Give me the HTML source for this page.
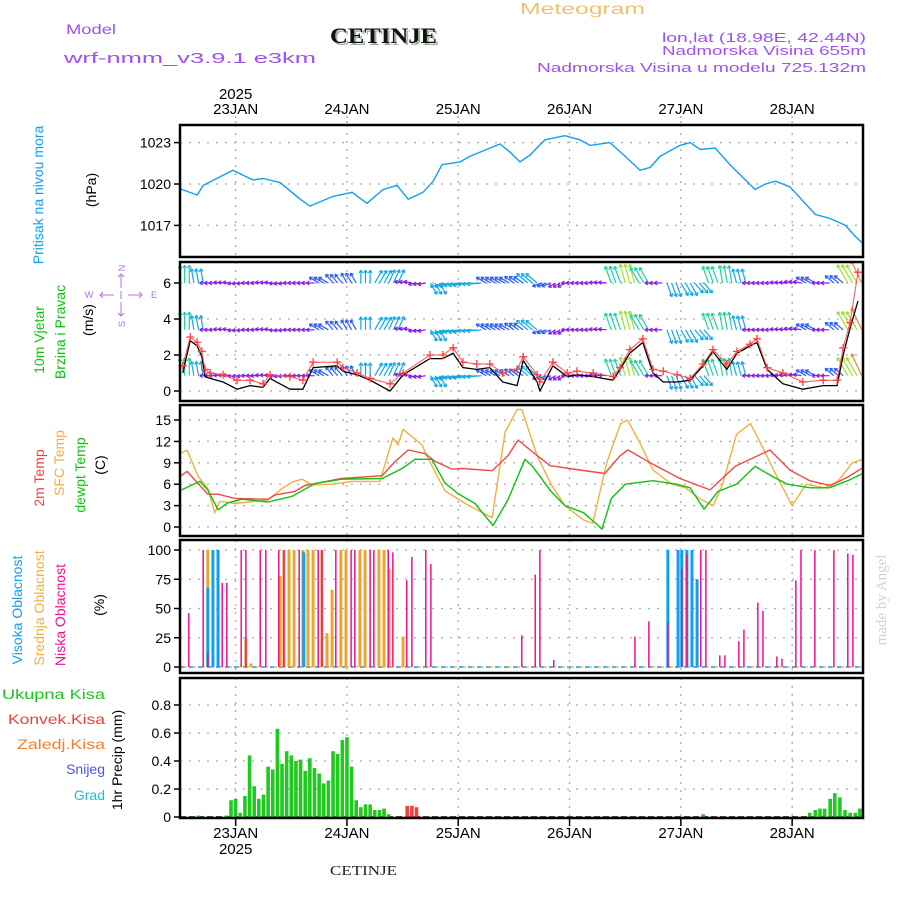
<!DOCTYPE html>
<html><head><meta charset="utf-8"><style>
html,body{margin:0;padding:0;background:#fff;}
svg{display:block;font-family:"Liberation Sans",sans-serif;}
</style></head><body>
<svg id="chart" width="900" height="900" viewBox="0 0 900 900" xmlns="http://www.w3.org/2000/svg">
<rect x="0" y="0" width="900" height="900" fill="#fff"/>
<g>
<text x="66" y="34" font-size="14" fill="#a050f0" textLength="50" lengthAdjust="spacingAndGlyphs">Model</text>
<text x="64" y="63" font-size="15" fill="#a050f0" textLength="252" lengthAdjust="spacingAndGlyphs">wrf-nmm_v3.9.1 e3km</text>
<text x="332" y="45" font-size="22" font-weight="bold" font-family="Liberation Serif,serif" fill="#a0b0a0" textLength="107" lengthAdjust="spacingAndGlyphs">CETINJE</text>
<text x="330" y="43" font-size="22" font-weight="bold" font-family="Liberation Serif,serif" fill="#111" textLength="107" lengthAdjust="spacingAndGlyphs">CETINJE</text>
<text x="520" y="14" font-size="16" fill="#f0c070" textLength="125" lengthAdjust="spacingAndGlyphs">Meteogram</text>
<text x="662" y="42" font-size="13" fill="#a050f0" textLength="204" lengthAdjust="spacingAndGlyphs">lon,lat (18.98E, 42.44N)</text>
<text x="662" y="55" font-size="13" fill="#a050f0" textLength="204" lengthAdjust="spacingAndGlyphs">Nadmorska Visina 655m</text>
<text x="537" y="72" font-size="13" fill="#a050f0" textLength="329" lengthAdjust="spacingAndGlyphs">Nadmorska Visina u modelu 725.132m</text>
</g>
<g id="grid"></g>
<g id="series"></g>
<g id="frames"></g>
<g id="labels"></g>
<g font-size="14">
<text transform="translate(43,195) rotate(-90)" text-anchor="middle" fill="#10a0f0" font-size="14">Pritisak na nivou mora</text>
<text transform="translate(96,190) rotate(-90)" text-anchor="middle" fill="#000">(hPa)</text>
<text transform="translate(44,340) rotate(-90)" text-anchor="middle" fill="#10c010">10m Vjetar</text>
<text transform="translate(65,332) rotate(-90)" text-anchor="middle" fill="#10c010">Brzina i Pravac</text>
<text transform="translate(93,320) rotate(-90)" text-anchor="middle" fill="#000">(m/s)</text>
<g fill="#b070f0" font-size="9" text-anchor="middle">
<text transform="translate(125,268) rotate(-90)">N</text>
<text transform="translate(125,324) rotate(-90)">S</text>
<text x="89" y="298">W</text><text x="154" y="298">E</text>
<g stroke="#b070f0" stroke-width="1" fill="none">
<path d="M100,295H114M128,295H142M103,292L100,295L103,298M139,292L142,295L139,298"/>
<path d="M121,274V288M121,302V316M118,277L121,274L124,277M118,313L121,316L124,313"/>
<path d="M121,291V299"/>
</g>
</g>
<text transform="translate(44,478) rotate(-90)" text-anchor="middle" fill="#f04040">2m Temp</text>
<text transform="translate(64,463) rotate(-90)" text-anchor="middle" fill="#f0b040">SFC Temp</text>
<text transform="translate(85,475) rotate(-90)" text-anchor="middle" fill="#10c010">dewpt Temp</text>
<text transform="translate(105,465) rotate(-90)" text-anchor="middle" fill="#000">(C)</text>
<text transform="translate(22,610) rotate(-90)" text-anchor="middle" fill="#10a0f0">Visoka Oblacnost</text>
<text transform="translate(44,608) rotate(-90)" text-anchor="middle" fill="#f0b040">Srednja Oblacnost</text>
<text transform="translate(65,615) rotate(-90)" text-anchor="middle" fill="#f01090">Niska Oblacnost</text>
<text transform="translate(104,605) rotate(-90)" text-anchor="middle" fill="#000">(%)</text>
<text transform="translate(122,760) rotate(-90)" text-anchor="middle" fill="#000">1hr Precip (mm)</text>
<g text-anchor="end" font-size="14">
<text x="105" y="699" fill="#20c020" textLength="103" lengthAdjust="spacingAndGlyphs">Ukupna Kisa</text>
<text x="105" y="724" fill="#f04040" textLength="97" lengthAdjust="spacingAndGlyphs">Konvek.Kisa</text>
<text x="105" y="749" fill="#f08030" textLength="88" lengthAdjust="spacingAndGlyphs">Zaledj.Kisa</text>
<text x="105" y="774" fill="#5050f0">Snijeg</text>
<text x="105" y="800" fill="#20c0d0">Grad</text>
</g>
<text x="330" y="875" font-size="14" font-family="Liberation Serif,serif" fill="#222" textLength="67" lengthAdjust="spacingAndGlyphs">CETINJE</text>
<text transform="translate(886,600) rotate(-90)" text-anchor="middle" font-family="Liberation Serif,serif" font-size="15" fill="#c8d8c8">made by Angel</text>
</g>
</svg>
<script>
// ---- data ----
const dayLabels = ["23JAN","24JAN","25JAN","26JAN","27JAN","28JAN"];
const dayHours = [12,36,60,84,108,132];
const presTicks = [1017,1020,1023];
const windTicks = [0,2,4,6];
const tempTicks = [0,3,6,9,12,15];
const cloudTicks = [0,25,50,75,100];
const precTicks = [0,0.2,0.4,0.6,0.8];

const presH = [0,0.4,3.7,5,11.4,15.7,17.9,21.6,25.9,28,33,37.1,40.3,43.8,46.8,49.2,52.4,54.6,56.5,60.4,62.5,66.8,69,71.2,73.3,75.5,78.7,83,86.2,88.4,92.7,96,99.2,101.4,103.5,107.8,110,112.2,115.4,118.6,121.9,124,126.2,128.4,131.5,133.7,137,140.2,143.5,145.6,147.2];
const presV = [1019.7,1019.6,1019.2,1019.9,1021.0,1020.3,1020.4,1020.1,1018.9,1018.4,1019.1,1019.4,1018.6,1019.6,1019.9,1018.9,1019.4,1020.2,1021.4,1021.6,1022.0,1022.6,1022.9,1022.3,1021.6,1022.1,1023.2,1023.5,1023.2,1022.8,1023.0,1022.0,1021.0,1021.2,1022.0,1022.8,1023.0,1022.5,1022.6,1021.4,1020.3,1019.6,1020.0,1020.2,1019.8,1019.0,1017.8,1017.5,1017.0,1016.2,1015.7];

const t2H = [0,1.5,6,8.2,11.9,19,20.5,24.8,26.9,29.1,34.9,43.6,46.4,49.2,52.8,55,58.7,60.8,67.3,70.7,72.9,75.5,79.8,86.2,91.6,94.9,96.6,101.4,107.8,114.3,119.7,127.2,131.5,135.8,140.2,144,147.2];
const t2V = [7.1,7.8,4.6,4.6,4.0,3.9,4.5,5.0,5.8,6.1,6.8,7.2,9.2,10.8,10.3,9.2,8.1,8.2,7.9,10.0,12.2,10.8,8.6,8.0,7.5,10.0,10.8,9.0,6.8,5.2,8.5,10.8,8.0,6.5,5.8,7.0,8.3];
const sfcH = [0,1.5,3.9,6,7.5,8.6,11.9,19,22,24.2,26.3,28.5,32.8,37.1,43.1,45.9,47,48.1,52.2,53.5,57.1,61.5,67.3,70.1,72.7,73.7,77,80,83,87,89,92,95,96.5,99,102,106,109,112,115,117,120,123,125,128,132,135,139,142,145,147.2];
const sfcV = [10.3,10.8,7.1,5.4,2.0,3.6,3.3,3.8,5.4,6.3,6.7,5.9,6.0,6.4,6.4,12.5,11.5,13.7,11.5,9.6,5.1,3.3,1.3,13.3,16.5,16.5,10.0,6.0,3.0,1.0,0.5,9.0,14.5,15.0,12.0,8.0,6.0,5.5,4.0,3.0,6.0,13.0,14.5,12.0,8.0,3.0,6.0,5.5,6.5,9.0,9.5];
const dewH = [0,4.3,6,8.2,10.3,13.4,19,24.2,29.1,34.9,43.6,47.9,50.7,54.3,57.1,59.9,63.6,67.5,70.7,74.4,76,80,83,87,90,91,93,96,102,107,110,113,116,120,124,128,131,136,140,144,147.2];
const dewV = [5.1,6.4,5.2,2.4,3.4,3.9,3.5,4.3,6.1,6.7,6.8,8.2,9.5,9.5,6.2,4.7,3.3,0.2,3.8,9.5,8.5,5.0,3.0,2.0,0.3,-0.3,4.0,6.0,6.5,6.0,5.5,2.5,5.0,6.0,8.5,7.0,6.0,5.5,5.5,6.5,7.5];

const windH = [0.6,2.2,3.7,4.7,5.4,6.5,9.3,12.3,15.1,17.9,19.4,23.7,26.5,28.7,33.9,35.1,38.2,41,45.3,48.1,53.9,56.7,58.9,61,64,66.8,69.6,72.7,74,77,77.6,80.4,83.5,85.6,89.1,93.4,94.9,97,99.8,102,104.2,107.2,110,112.8,114.9,117.9,120.1,122.9,124.4,126.6,130,134.3,138.7,141.7,143,144.5,146.2];
const gustV = [1.4,3.0,2.7,2.2,1.2,1.0,0.9,0.6,0.6,0.4,0.9,0.8,0.6,1.6,1.6,1.3,1.0,0.7,0.4,1.0,2.0,2.0,2.4,1.6,1.5,1.5,1.0,1.2,1.9,0.9,0.5,1.6,1.0,1.1,1.0,0.8,1.3,2.3,2.9,1.2,1.1,0.9,0.7,1.5,2.3,1.5,2.2,2.6,2.9,1.3,1.0,0.5,0.6,0.6,2.4,3.8,6.6];
const speedV = [1.0,2.8,2.5,1.9,0.8,0.7,0.5,0.1,0.3,0.2,0.7,0.1,0.1,1.3,1.4,1.1,0.9,0.6,0.0,0.9,1.8,1.8,2.1,1.3,1.2,1.3,0.5,0.3,1.7,0.5,0.0,1.4,0.8,0.9,0.8,0.6,1.2,2.1,2.7,1.0,0.5,0.5,0.6,1.4,2.2,1.2,2.1,2.5,2.7,1.2,0.4,0.1,0.3,0.3,2.0,3.5,5.0];

const arrowH = [0,3,6,9,12,15,18,21,24,27,30,33,36,39,42,45,48,51,54,57,60,63,66,69,72,75,78,81,84,87,90,93,96,99,102,105,108,111,114,117,120,123,126,129,132,135,138,141,144,147];
const arrowDir = [90,100,180,175,185,180,175,185,180,180,150,130,120,90,60,65,170,190,300,195,190,185,150,150,145,140,200,210,180,180,175,110,105,120,180,290,300,310,110,100,105,180,180,175,170,150,180,140,120,115];
const arrowSpd = [4,3,1,1,1,1,1,1,1,1,2,2,2,2.5,3,3,1,1,2.5,3,3,3,2,2,2,3,1.5,1,1,1,1,4,4.5,4,1,3,3,2.5,4,4,3,1,1,1,1,2,1,2,5,6];
const arrowRows = [6,3.4,0.85];

const lowH = [1.9,5,6,9.1,10.1,13.2,14.2,17.3,18.5,21.3,22.4,25.7,29.8,30.6,33.6,36.9,37.7,41,41.8,44.9,45.9,48.9,50,53,54.1,73.7,76.6,77.6,80.6,98.1,101.1,105.2,108.2,109.3,112.3,113.4,116.4,117.5,120.5,121.6,124.6,125.7,128.7,129.8,132.8,133.9,136.9,141,144,145.1];
const lowV = [46,100,12,72,72,100,100,100,100,100,100,100,100,100,100,100,100,100,100,100,98,74,94,100,88,27,79,100,6,26,39,38,84,96,100,100,10,10,22,32,55,48,9,7,74,100,100,100,97,96];
const midH = [6,8.2,14.2,15.3,21.6,22.4,23.5,24.6,26.5,27.6,28.7,30.6,31.7,32.8,34.7,35.8,38.8,39.9,42.9,44,45.1,48.1];
const midV = [100,100,25,3,78,100,100,100,100,100,100,100,29,66,100,100,100,100,100,100,84,26];
const highH = [6,7.1,8.2,26.7,105.2,107.4,108.2,109.3,110.4,111.5];
const highV = [68,100,100,98,100,100,100,100,100,75];

const precH = [4,10,11,12,13,14,15,16,17,18,19,20,21,22,23,24,25,26,27,28,29,30,31,32,33,34,35,36,37,38,39,40,41,42,43,44,45,112.8,135.8,137,138,139,140.2,141.2,142.3,143.4,144.5,145.6,146.6];
const precV = [0.01,0.01,0.12,0.13,0.03,0.15,0.44,0.22,0.13,0.16,0.36,0.34,0.63,0.38,0.47,0.44,0.40,0.41,0.33,0.42,0.35,0.31,0.24,0.26,0.47,0.45,0.55,0.57,0.36,0.12,0.07,0.09,0.09,0.05,0.05,0.06,0.02,0.02,0.03,0.05,0.06,0.06,0.13,0.17,0.14,0.05,0.03,0.03,0.06];
const convH = [49,50,51];
const convV = [0.08,0.08,0.07];

// ---- axes ----
const X0=180, X1=863, HSTEP=4.6375;
const xS = h => X0 + h*HSTEP;
const panels = {
  pres:{top:125,bot:257,y:v=>184-(v-1020)*13.8},
  wind:{top:262,bot:401,y:v=>391-v*18},
  temp:{top:405,bot:536,y:v=>527-v*7.13},
  cloud:{top:540,bot:673,y:v=>667-v*1.17},
  prec:{top:678,bot:818,y:v=>817-v*140}
};
const NS="http://www.w3.org/2000/svg";
function mk(tag,attrs,parent){const e=document.createElementNS(NS,tag);for(const k in attrs)e.setAttribute(k,attrs[k]);parent.appendChild(e);return e;}
const gGrid=document.getElementById('grid'),gSer=document.getElementById('series'),gFr=document.getElementById('frames'),gLab=document.getElementById('labels');
const clampX = x=>Math.max(X0,Math.min(X1,x));

function yAxis(p,ticks,name){
  ticks.forEach(t=>{
    const y=p.y(t);
    const gl=mk('line',{x1:X0,x2:X1,y1:y,y2:y,stroke:'#aaa','stroke-width':1.3,'stroke-dasharray':'2,7'},gGrid);
    
    
    mk('line',{x1:X0-6,x2:X0,y1:y,y2:y,stroke:'#000','stroke-width':1.5},gFr);
    const tx=mk('text',{x:X0-9,y:y+5,'text-anchor':'end','font-size':14,fill:'#000'},gLab);
    tx.textContent=t;
    
    
  });
}
yAxis(panels.pres,presTicks,'pressure');
yAxis(panels.wind,windTicks,'wind');
yAxis(panels.temp,tempTicks,'temp');
yAxis(panels.cloud,cloudTicks,'cloud');
yAxis(panels.prec,precTicks,'precip');

Object.keys(panels).forEach(k=>{
  const p=panels[k];
  dayHours.forEach(h=>{
    const gl=mk('line',{x1:xS(h),x2:xS(h),y1:p.top,y2:p.bot,stroke:'#aaa','stroke-width':1.3,'stroke-dasharray':'2,6'},gGrid);
    
    
  });
});
dayHours.forEach((h,i)=>{
  const x=xS(h);
  mk('line',{x1:x,x2:x,y1:116,y2:125,stroke:'#aaa','stroke-width':1.3,'stroke-dasharray':'2,3'},gGrid);
  mk('line',{x1:x,x2:x,y1:818,y2:826,stroke:'#000','stroke-width':1.5},gFr);
  const t=mk('text',{x:x,y:114,'text-anchor':'middle','font-size':15,fill:'#000'},gLab);
  t.textContent=dayLabels[i];
  
  
  const b=mk('text',{x:x,y:838,'text-anchor':'middle','font-size':15,fill:'#000'},gLab);
  b.textContent=dayLabels[i];
  
  
});
{
  const t=mk('text',{x:xS(dayHours[0]),y:99,'text-anchor':'middle','font-size':15,fill:'#000'},gLab);t.textContent='2025';
  
  
  const b=mk('text',{x:xS(dayHours[0]),y:854,'text-anchor':'middle','font-size':15,fill:'#000'},gLab);b.textContent='2025';
  
  
}

Object.keys(panels).forEach(k=>{
  const p=panels[k];
  const r=mk('rect',{x:X0,y:p.top,width:X1-X0,height:p.bot-p.top,fill:'none',stroke:'#000','stroke-width':2.5},gFr);
  
  
});

function line(hs,vs,p,color,name,w){
  const pts=hs.map((h,i)=>clampX(xS(h)).toFixed(1)+','+p.y(vs[i]).toFixed(1)).join(' ');
  const e=mk('polyline',{points:pts,fill:'none',stroke:color,'stroke-width':w||1.4,'stroke-linejoin':'round'},gSer);
  
  
}
line(presH,presV,panels.pres,'#10a0f0','pressure-line');
line(sfcH,sfcV,panels.temp,'#f0b040','sfc-temp-line');
line(t2H,t2V,panels.temp,'#f04848','temp-2m-line');
line(dewH,dewV,panels.temp,'#10c010','dewpoint-line');

function spdColor(s){return s<1.5?'#8a1ee6':s<2.5?'#2a5cff':s<3.5?'#10a8e8':s<4.3?'#20d0a0':s<5.5?'#a0e030':'#f08828';}
arrowRows.forEach((lv,ri)=>{
  const by=panels.wind.y(lv);
  arrowH.forEach((h,i)=>{
    for(let k=0;k<3;k++){
      const hh=h+k; if(xS(hh)>X1)continue;
      const L=5+arrowSpd[i]*3.2, a=arrowDir[i]*Math.PI/180;
      const x0=xS(hh), x1=x0+L*Math.cos(a), y1=by-L*Math.sin(a);
      const c=spdColor(arrowSpd[i]);
      const g=mk('g',{stroke:c,'stroke-width':1.2,fill:'none'},gSer);
      
      
      mk('line',{x1:x0,y1:by,x2:x1,y2:y1},g);
      const ha=3.5;
      [a+2.6,a-2.6].forEach(b=>mk('line',{x1:x1,y1:y1,x2:x1+ha*Math.cos(b),y2:y1-ha*Math.sin(b)},g));
    }
  });
});
line(windH,speedV,panels.wind,'#000','wind-speed-line',1.3);
line(windH,gustV,panels.wind,'#ff5050','wind-gust-line',1);
windH.forEach((h,i)=>{
  const x=clampX(xS(h)),y=panels.wind.y(gustV[i]);
  const g=mk('path',{d:`M${x-4},${y}H${x+4}M${x},${y-4}V${y+4}`,stroke:'#ff4040','stroke-width':1.3},gSer);
  
  
});

function bars(hs,vs,p,color,w,name){
  hs.forEach((h,i)=>{
    const x=xS(h),y=p.y(vs[i]),y0=p.y(0);
    const r=mk('rect',{x:x-w/2,y:Math.min(y,y0),width:w,height:Math.abs(y0-y),fill:color},gSer);
    
    
  });
}
mk('line',{x1:X0,x2:X1,y1:panels.cloud.y(0),y2:panels.cloud.y(0),stroke:'#10a0f0','stroke-width':1.5,'stroke-dasharray':'5,4'},gSer);
mk('line',{x1:X0+4,x2:X1,y1:panels.cloud.y(0),y2:panels.cloud.y(0),stroke:'#f0b040','stroke-width':1.2,'stroke-dasharray':'3,6'},gSer);
bars(midH,midV,panels.cloud,'#e8a830',3,'mid-cloud-bar');
bars(highH,highV,panels.cloud,'#10a0f0',3,'high-cloud-bar');
bars(lowH,lowV,panels.cloud,'#f01090',1.5,'low-cloud-bar');

mk('line',{x1:X0,x2:X1,y1:panels.prec.y(0),y2:panels.prec.y(0),stroke:'#000','stroke-width':1.5,'stroke-dasharray':'6,3'},gSer);
bars(precH,precV,panels.prec,'#20c820',3.6,'precip-bar');
bars(convH,convV,panels.prec,'#f04040',3.6,'convective-precip-bar');
</script>
</body></html>
